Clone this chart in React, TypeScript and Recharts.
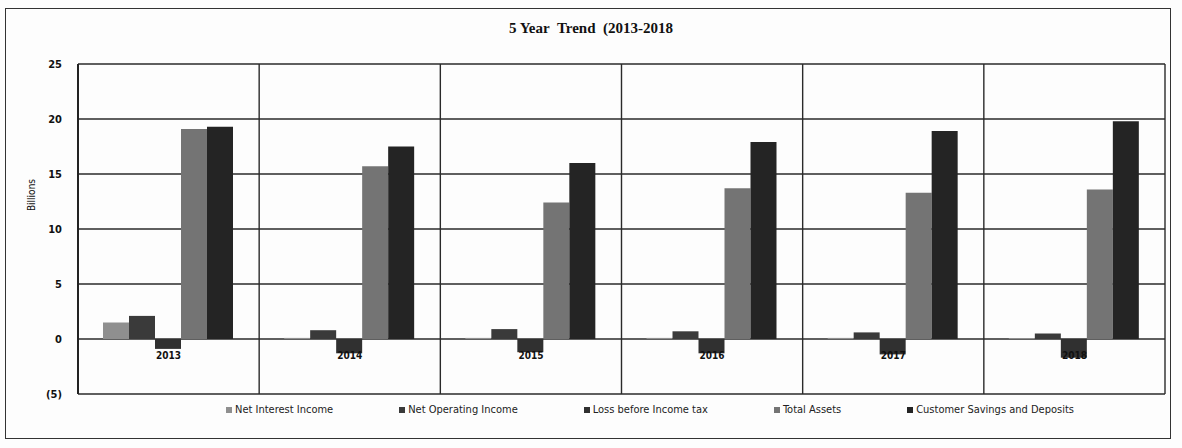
import React from 'react';
import {
  ComposedChart,
  Bar,
  Line,
  XAxis,
  YAxis,
  CartesianGrid,
  Legend,
  LabelList,
  Label,
} from 'recharts';

const years = ['2013', '2014', '2015', '2016', '2017', '2018'];
const netInterestIncome = [1.5, 0.1, 0.1, 0.1, 0.1, 0.1];
const netOperatingIncome = [2.1, 0.8, 0.9, 0.7, 0.6, 0.5];
const lossBeforeIncomeTax = [-0.9, -1.3, -1.2, -1.3, -1.4, -1.7];
const totalAssets = [19.1, 15.7, 12.4, 13.7, 13.3, 13.6];
const customerSavingsDeposits = [19.3, 17.5, 16.0, 17.9, 18.9, 19.8];
const yTicks = [-5, 0, 5, 10, 15, 20, 25];

const seriesNames = [
  'Net Interest Income',
  'Net Operating Income',
  'Loss before Income tax',
  'Total Assets',
  'Customer Savings and Deposits',
];
const seriesKeys = ['nii', 'noi', 'lbt', 'ta', 'csd'];
const seriesColors = ['#8f8f8f', '#3a3a3a', '#303030', '#747474', '#242424'];

const data = years.map((year, i) => ({
  year,
  nii: netInterestIncome[i],
  noi: netOperatingIncome[i],
  lbt: lossBeforeIncomeTax[i],
  ta: totalAssets[i],
  csd: customerSavingsDeposits[i],
}));

const legendFont = '"Liberation Sans Narrow", "DejaVu Sans Condensed", "Liberation Sans", sans-serif';

const renderLegend = () => (
  <div
    style={{
      display: 'flex',
      flexDirection: 'row',
      paddingLeft: 226,
      gap: 66,
      fontFamily: legendFont,
      fontSize: 11,
      color: '#222',
      alignItems: 'center',
    }}
  >
    {seriesNames.map((name, i) => (
      <div key={name} style={{ display: 'flex', alignItems: 'center', whiteSpace: 'nowrap' }}>
        <span
          style={{
            display: 'inline-block',
            width: 6,
            height: 6,
            background: seriesColors[i],
            marginRight: 3,
          }}
        />
        <span>{name}</span>
      </div>
    ))}
  </div>
);

export default function App() {
  return (
    <div
      style={{
        position: 'absolute',
        left: 0,
        top: 0,
        width: 1182,
        height: 448,
        background: '#fdfdfd',
        overflow: 'hidden',
      }}
    >
      <div
        style={{
          position: 'absolute',
          left: 5,
          top: 8,
          width: 1166,
          height: 431,
          border: '1.5px solid #333',
          boxSizing: 'border-box',
        }}
      />
      <div
        style={{
          position: 'absolute',
          left: 0,
          top: 20,
          width: 1182,
          textAlign: 'center',
          fontFamily: '"Liberation Serif", "DejaVu Serif", serif',
          fontWeight: 'bold',
          fontSize: 15,
          color: '#111',
        }}
      >
        5 Year&nbsp; Trend&nbsp; (2013-2018
      </div>
      <div style={{ position: 'absolute', left: 0, top: 0 }}>
        <ComposedChart
          width={1182}
          height={448}
          data={data}
          margin={{ top: 64, right: 17, bottom: 54, left: 28 }}
          barCategoryGap={25}
          barGap={0}
        >
          <CartesianGrid
            stroke="#2a2a2a"
            strokeWidth={1.4}
            verticalCoordinatesGenerator={({ offset }: any) =>
              years.map((_, i) => offset.left + (i * offset.width) / years.length).concat([
                offset.left + offset.width,
              ])
            }
          />
          <XAxis dataKey="year" hide />
          <YAxis
            width={50}
            domain={[-5, 25]}
            ticks={yTicks}
            interval={0}
            tickLine={false}
            tickMargin={10}
            axisLine={{ stroke: '#222', strokeWidth: 2 }}
            tickFormatter={(v: number) => (v < 0 ? `(${-v})` : `${v}`)}
            tick={{
              fill: '#111',
              fontSize: 11,
              fontWeight: 'bold',
              fontFamily: '"DejaVu Sans Condensed", "Liberation Sans Narrow", sans-serif',
            }}
          >
            <Label
              value="Billions"
              angle={-90}
              position="insideLeft"
              offset={3}
              dy={-34}
              style={{
                fill: '#111',
                fontSize: 10,
                fontFamily: legendFont,
                textAnchor: 'middle',
              }}
            />
          </YAxis>
          {seriesKeys.map((k, i) => (
            <Bar
              key={k}
              dataKey={k}
              name={seriesNames[i]}
              fill={seriesColors[i]}
              isAnimationActive={false}
            />
          ))}
          <Line
            dataKey={() => 0}
            stroke="none"
            dot={false}
            activeDot={false}
            legendType="none"
            isAnimationActive={false}
          >
            <LabelList
              dataKey="year"
              position="bottom"
              offset={13}
              style={{
                fill: '#111',
                fontSize: 10,
                fontWeight: 'bold',
                fontFamily: '"DejaVu Sans Condensed", "Liberation Sans Narrow", sans-serif',
              }}
            />
          </Line>
          <Legend
            layout="vertical"
            align="center"
            verticalAlign="middle"
            content={renderLegend}
            wrapperStyle={{ top: 403, left: 0, width: 1182 }}
          />
        </ComposedChart>
      </div>
    </div>
  );
}
